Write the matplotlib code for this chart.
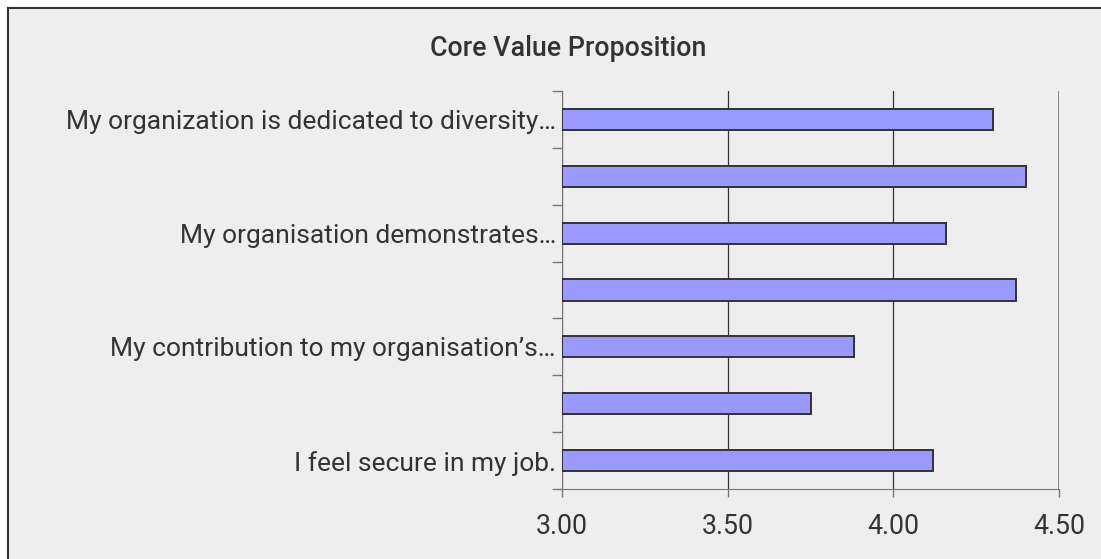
import matplotlib.pyplot as plt
from matplotlib.patches import Rectangle
from matplotlib.ticker import FixedLocator, NullFormatter

categories = [
    "My organization is dedicated to diversity…",
    "",
    "My organisation demonstrates…",
    "",
    "My contribution to my organisation’s…",
    "",
    "I feel secure in my job.",
]
scores = [4.30, 4.40, 4.16, 4.37, 3.88, 3.75, 4.12]
x_ticks = [3.00, 3.50, 4.00, 4.50]
x_tick_labels = ["3.00", "3.50", "4.00", "4.50"]

BG = "#eeeeee"
BAR = "#9999ff"
EDGE = "#333333"
TEXT = "#333333"
FONT = ["Roboto", "DejaVu Sans"]

W, H = 1101, 559
fig = plt.figure(figsize=(W / 100, H / 100), dpi=100, facecolor="white")

# panel background with its dark border on the top and left edges
fig.patches.append(Rectangle((8 / W, 0), 1.0, 1 - 8 / H, transform=fig.transFigure,
                             facecolor=BG, edgecolor="none", zorder=-5))
fig.add_artist(plt.Line2D([8 / W, 8 / W], [0, 1 - 8 / H], color=EDGE, lw=1.5, transform=fig.transFigure))
fig.add_artist(plt.Line2D([8 / W, 1], [1 - 8 / H, 1 - 8 / H], color=EDGE, lw=1.5, transform=fig.transFigure))

ax = fig.add_axes([562 / W, 1 - 489 / H, (1059 - 562) / W, (489 - 91) / H])
ax.set_zorder(2)
ax.set_facecolor(BG)

n = len(categories)
positions = [n - 1 - i for i in range(n)]
ax.barh(positions, [s - 3.0 for s in scores], left=3.0, height=0.37,
        color=BAR, edgecolor=EDGE, linewidth=1.4, zorder=3)

ax.set_xlim(3.0, 4.5)
ax.set_ylim(-0.5, n - 0.5)

ax.set_xticks(x_ticks)
ax.set_xticklabels(x_tick_labels, fontsize=19.3, color=TEXT, family=FONT)
ax.tick_params(axis="x", direction="out", length=6, width=1, color="#777777", pad=11)
ax.grid(axis="x", color=EDGE, linewidth=0.9, zorder=1)

# category boundaries carry the tick marks, labels sit on the bar centres
ax.yaxis.set_major_locator(FixedLocator([p - 0.5 for p in range(n + 1)]))
ax.yaxis.set_major_formatter(NullFormatter())
ax.tick_params(axis="y", which="major", direction="out", length=7, width=1, color="#777777")
ax.set_yticks(positions, minor=True)
ax.set_yticklabels(categories, minor=True, fontsize=19.0, color=TEXT, family=FONT)
ax.tick_params(axis="y", which="minor", length=0, pad=4.5)

for side in ("top", "right"):
    ax.spines[side].set_visible(False)
ax.spines["left"].set_color("#777777")
ax.spines["bottom"].set_color("#777777")
ax.axvline(4.5, color="#777777", linewidth=1.2, zorder=2)

fig.text(568 / W, 1 - 48 / H, "Core Value Proposition", ha="center", va="center",
         fontsize=19.3, color=TEXT, family=FONT, fontweight="medium")

fig.savefig("out.png", dpi=100, facecolor="white")
